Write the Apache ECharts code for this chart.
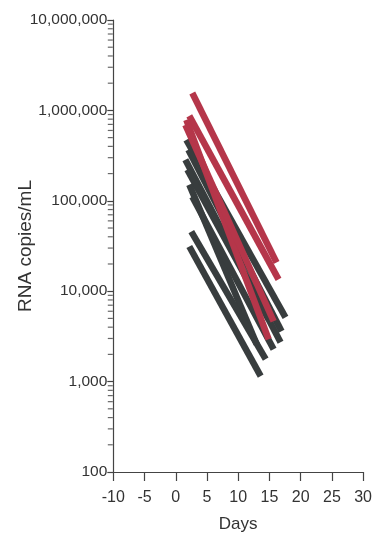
<!DOCTYPE html>
<html>
<head>
<meta charset="utf-8">
<script src="https://cdn.jsdelivr.net/npm/echarts@6/dist/echarts.min.js"></script>
<style>
html,body{margin:0;padding:0;background:#fff;}
#chart{width:375px;height:538px;}
</style>
</head>
<body>
<div id="chart"></div>
<script>
// Days and RNA copies/mL for each patient (start point, end point)
var redLines = [
  [[2.65, 1560000], [16.14, 20800]],
  [[2.17, 871000], [16.46, 13500]],
  [[1.70, 787000], [14.87, 2940]],
  [[1.54, 693000], [15.67, 4650]]
];
var darkLines = [
  [[1.70, 473000], [17.57, 5140]],
  [[2.02, 367000], [16.94, 3600]],
  [[1.54, 285000], [16.78, 2720]],
  [[1.86, 221000], [14.87, 4890]],
  [[2.17, 151000], [12.97, 2590]],
  [[2.65, 111000], [15.67, 2280]],
  [[2.49, 45700], [14.40, 1770]],
  [[2.17, 31200], [13.60, 1150]]
];
var xTicks = [-10, -5, 0, 5, 10, 15, 20, 25, 30];
var yMinorTicks = [];
[100, 1000, 10000, 100000, 1000000].forEach(function (d) {
  for (var k = 2; k <= 9; k++) yMinorTicks.push([-10, d * k]);
});

var RED = '#b5364a';
var DARK = '#383d3e';
var series = [];
darkLines.forEach(function (l) {
  series.push({type: 'line', data: l, symbol: 'none', silent: true,
    lineStyle: {color: DARK, width: 6.5, cap: 'butt'}});
});
redLines.forEach(function (l) {
  series.push({type: 'line', data: l, symbol: 'none', silent: true,
    lineStyle: {color: RED, width: 6.5, cap: 'butt'}});
});
series.push({type: 'scatter', data: yMinorTicks, symbol: 'rect', symbolSize: [5, 1.2],
  symbolOffset: [-3, 0], clip: false, silent: true, itemStyle: {color: '#444'}});

var chart = echarts.init(document.getElementById('chart'));
chart.setOption({
  animation: false,
  backgroundColor: '#fff',
  grid: {left: 113.3, right: 9.7, top: 20, bottom: 65},
  xAxis: {
    type: 'value', min: -10, max: 30, interval: 5,
    name: 'Days', nameLocation: 'middle', nameGap: 44, nameMoveOverlap: false,
    nameTextStyle: {fontFamily: 'Liberation Sans', fontSize: 17, color: '#333'},
    axisLine: {onZero: false, lineStyle: {color: '#444', width: 1.2}},
    axisTick: {show: true, length: 9, lineStyle: {color: '#444', width: 1.2}},
    axisLabel: {fontFamily: 'Liberation Sans', fontSize: 16, color: '#333', margin: 18},
    splitLine: {show: false}
  },
  yAxis: {
    type: 'log', min: 100, max: 10000000, logBase: 10,
    name: 'RNA copies/mL', nameLocation: 'middle', nameGap: 78, nameMoveOverlap: false,
    nameTextStyle: {fontFamily: 'Liberation Sans', fontSize: 19, color: '#333'},
    axisLine: {onZero: false, lineStyle: {color: '#444', width: 1.2}},
    axisTick: {show: true, length: 6, lineStyle: {color: '#444', width: 1.2}},
    axisLabel: {fontFamily: 'Liberation Sans', fontSize: 15.5, color: '#333', margin: 6,
      formatter: function (v) { return String(Math.round(v)).replace(/\B(?=(\d{3})+(?!\d))/g, ','); }},
    splitLine: {show: false}
  },
  series: series
});
</script>
</body>
</html>
